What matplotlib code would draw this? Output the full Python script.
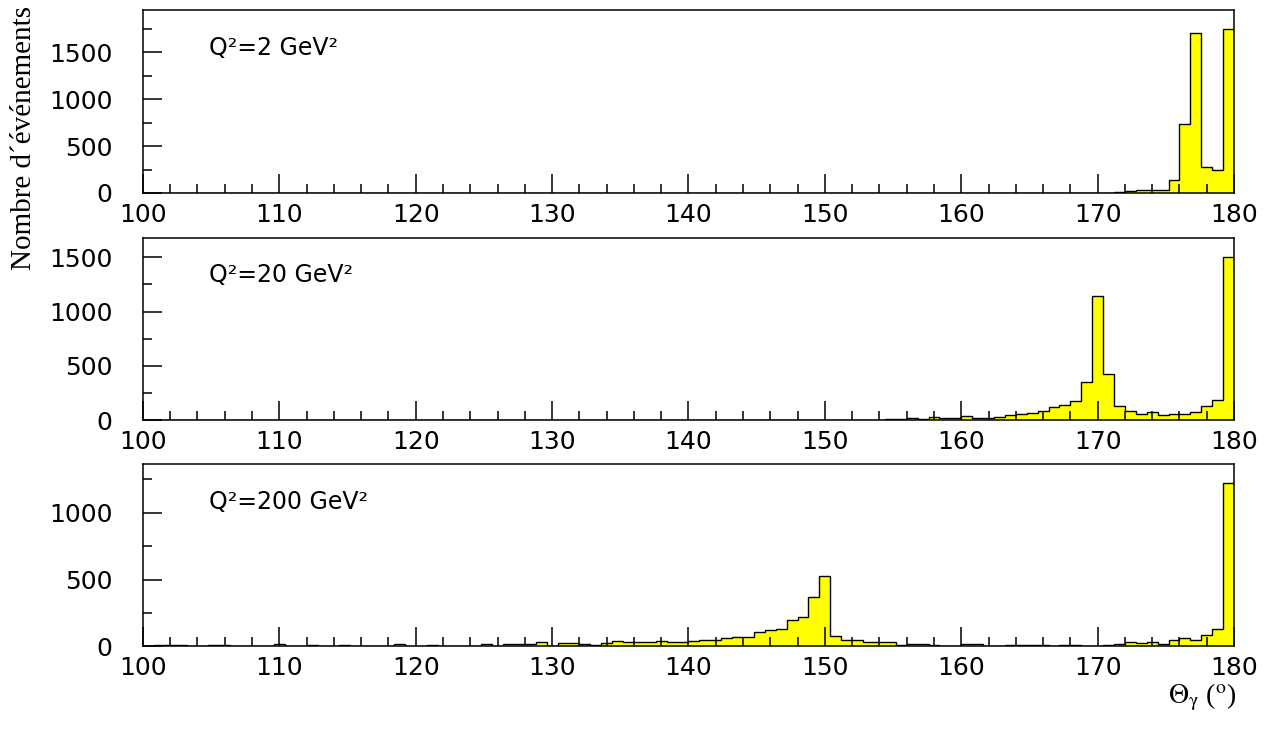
import numpy as np
import matplotlib
matplotlib.use('Agg')
from matplotlib import pyplot as plt
from matplotlib.ticker import MultipleLocator

# bins de 0.8 degre entre 100 et 180 (100 bins)
theta_min = 100
theta_max = 180
n_bins = 100

labels = ['Q²=2 GeV²', 'Q²=20 GeV²', 'Q²=200 GeV²']

q2_2 = [0, 0, 0, 0, 0, 0, 0, 0, 0, 0,
        0, 0, 0, 0, 0, 0, 0, 0, 0, 0,
        0, 0, 0, 0, 0, 0, 0, 0, 0, 0,
        0, 0, 0, 0, 0, 0, 0, 0, 0, 0,
        0, 0, 0, 0, 0, 0, 0, 0, 0, 0,
        0, 0, 0, 0, 3, 3, 0, 0, 0, 0,
        0, 3, 0, 0, 0, 0, 0, 0, 0, 0,
        0, 3, 0, 0, 0, 0, 0, 0, 0, 0,
        0, 3, 0, 3, 0, 3, 3, 0, 2, 10,
        21, 28, 32, 36, 139, 733, 1709, 281, 242, 1751]

q2_20 = [0, 0, 0, 0, 0, 0, 0, 0, 0, 0,
         0, 0, 0, 0, 0, 0, 0, 0, 0, 0,
         0, 0, 0, 0, 0, 0, 0, 0, 0, 0,
         0, 0, 0, 0, 0, 0, 0, 0, 0, 0,
         0, 0, 0, 0, 0, 0, 0, 0, 0, 0,
         0, 0, 0, 0, 0, 2, 2, 0, 0, 0,
         2, 0, 2, 2, 2, 3, 3, 3, 6, 9,
         15, 9, 24, 18, 18, 34, 18, 21, 28, 49,
         52, 61, 83, 119, 138, 177, 349, 1148, 425, 129,
         83, 55, 70, 49, 55, 55, 70, 129, 184, 1505]

q2_200 = [2, 8, 8, 8, 6, 6, 8, 8, 6, 6,
          6, 6, 18, 6, 6, 14, 6, 6, 14, 6,
          6, 6, 4, 18, 6, 6, 14, 6, 6, 6,
          6, 18, 6, 16, 16, 20, 37, 7, 25, 25,
          17, 12, 25, 42, 35, 35, 32, 42, 37, 37,
          40, 52, 52, 67, 70, 70, 107, 122, 129, 199,
          219, 373, 527, 77, 47, 47, 32, 30, 32, 12,
          22, 17, 12, 5, 5, 15, 20, 7, 5, 12,
          10, 10, 12, 5, 12, 12, 5, 5, 12, 22,
          30, 25, 32, 22, 47, 67, 45, 85, 127, 1223]

series = [q2_2, q2_20, q2_200]
y_max = [1951, 1680, 1360]

edges = np.linspace(theta_min, theta_max, n_bins + 1)

plt.rcParams['mathtext.fontset'] = 'stix'

fig = plt.figure(figsize=(12.74, 7.31), dpi=100)

# position des 3 panneaux (left, bottom, width, height) en fraction de figure
boxes = [(0.1122, 0.736, 0.8564, 0.2503),
         (0.1122, 0.4254, 0.8564, 0.2493),
         (0.1122, 0.1156, 0.8564, 0.2490)]

for box, values, label, ymax in zip(boxes, series, labels, y_max):
    ax = fig.add_axes(box)
    ax.stairs(values, edges, fill=True, color='#ffff00', zorder=1)
    ax.stairs(values, edges, fill=False, color='black', linewidth=1.0, zorder=1.5)
    ax.set_xlim(theta_min, theta_max)
    ax.set_ylim(0, ymax)
    ax.xaxis.set_major_locator(MultipleLocator(10))
    ax.xaxis.set_minor_locator(MultipleLocator(2))
    ax.yaxis.set_major_locator(MultipleLocator(500))
    ax.yaxis.set_minor_locator(MultipleLocator(250))
    ax.tick_params(which='both', direction='in', top=False, right=False,
                   color='black', width=1.1, labelsize=18)
    ax.tick_params(which='major', length=13.5)
    ax.tick_params(which='minor', length=6.8)
    ax.tick_params(axis='x', pad=7)
    ax.tick_params(axis='y', pad=22)
    for s in ax.spines.values():
        s.set_linewidth(1.1)
    ax.text(0.061, 0.755, label, transform=ax.transAxes, fontsize=17,
            ha='left', va='baseline')

fig.text(0.019, 0.811, 'Nombre d\u00b4\u00e9v\u00e9nements', rotation=90,
         family='Liberation Serif', fontsize=21, ha='center', va='center')

fig.text(0.9168, 0.038, r'$\Theta_{\rm \gamma}$ ($^{\rm o}$)', family='Liberation Serif',
         fontsize=20, ha='left', va='baseline')

fig.savefig('out.png', dpi=100)
